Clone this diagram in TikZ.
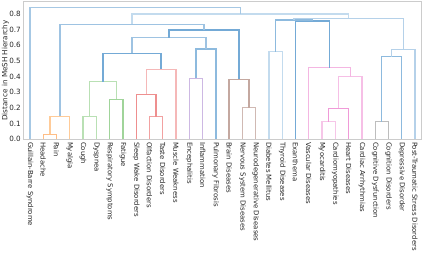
\documentclass[tikz,border=0pt]{standalone}
\usepackage{fontspec}
\setmainfont{DejaVu Sans}
\begin{document}
\begin{tikzpicture}[x=1pt,y=-1pt,
  lnk/.style={line width=1.3pt},
  leaf/.style={rotate=-90,anchor=west,inner sep=0pt,font=\fontsize{6.9}{8}\selectfont,text=black!85},
  tick/.style={anchor=east,inner sep=0pt,font=\fontsize{7.2}{8}\selectfont,text=black!85}]
\definecolor{bA}{HTML}{A6C8E4}
\definecolor{bB}{HTML}{C3DBEE}
\definecolor{bC}{HTML}{9EC3E2}
\definecolor{bD}{HTML}{74AAD6}
\definecolor{bE}{HTML}{8DBADE}
\definecolor{bF}{HTML}{B5D1E9}
\definecolor{oA}{HTML}{FFBE86}
\definecolor{oB}{HTML}{FFCB98}
\definecolor{gA}{HTML}{B9E0B4}
\definecolor{gB}{HTML}{A0D49A}
\definecolor{rA}{HTML}{EE8F8F}
\definecolor{rB}{HTML}{F2A1A1}
\definecolor{rC}{HTML}{F5B8B8}
\definecolor{pu}{HTML}{CDB8E3}
\definecolor{brA}{HTML}{C4A8A0}
\definecolor{brB}{HTML}{D0B9B3}
\definecolor{pA}{HTML}{F4B6E2}
\definecolor{pB}{HTML}{F6BFE6}
\definecolor{pC}{HTML}{F09AD8}
\definecolor{pD}{HTML}{F6C6E8}
\definecolor{gr}{HTML}{BDBDBD}
\useasboundingbox (0,0) rectangle (423,254);
% frame
\draw[black!20,line width=0.8pt] (23.4,1.5) rectangle (421.6,139.3);
% y ticks
\foreach \v in {0,1,...,8} {
  \node[tick] (t\v) at (21,{139.3-15.66*\v}) {0.\v};
}
\node[rotate=90,inner sep=0pt,font=\fontsize{7.2}{8}\selectfont,text=black!85] (ylab) at (5.5,70.4) {Distance in MeSH Hierarchy};
% leaves
\foreach \i/\t in {0/Guillain-Barre Syndrome,1/Headache,2/Pain,3/Myalgia,4/Cough,5/Dyspnea,6/Respiratory Symptoms,7/Fatigue,8/Sleep Wake Disorders,9/Olfaction Disorders,10/Taste Disorders,11/Muscle Weakness,12/Encephalitis,13/Inflammation,14/Pulmonary Fibrosis,15/Brain Diseases,16/Nervous System Diseases,17/Neurodegenerative Diseases,18/Diabetes Mellitus,19/Thyroid Diseases,20/Exanthema,21/Vascular Diseases,22/Myocarditis,23/Cardiomyopathies,24/Heart Diseases,25/Cardiac Arrhythmias,26/Cognitive Dysfunction,27/Cognition Disorders,28/Depressive Disorder,29/Post-Traumatic Stress Disorders} {
  \coordinate (l\i) at ({30+13.276*\i},139.3);
  \node[leaf] (n\i) at ({30+13.276*\i},141.8) {\t};
}
% cluster points
\coordinate (cHP) at (49.92,134.3);
\coordinate (cHPM) at (59.87,116.3);
\coordinate (cCD) at (89.74,116.7);
\coordinate (cRF) at (116.30,99.3);
\coordinate (cG) at (103.02,81.7);
\coordinate (cOT) at (156.12,116.7);
\coordinate (cSOT) at (146.16,94.3);
\coordinate (cR) at (161.10,69.3);
\coordinate (cGR) at (132.06,53.3);
\coordinate (cEI) at (195.95,78.3);
\coordinate (cEIP) at (205.91,49);
\coordinate (cS) at (168.98,37.7);
\coordinate (cNN) at (249.05,107.7);
\coordinate (cB) at (239.10,79.3);
\coordinate (cSB) at (204.04,30);
\coordinate (cO) at (131.96,24.3);
\coordinate (cDT) at (275.60,51.7);
\coordinate (cMC) at (328.71,121.7);
\coordinate (cMCH) at (338.67,108.3);
\coordinate (cMCHA) at (350.28,76.7);
\coordinate (cP) at (329.54,67.7);
\coordinate (cEP) at (312.53,21);
\coordinate (cDTEP) at (294.07,20);
\coordinate (cCC) at (381.81,121.7);
\coordinate (cCCD) at (391.77,56.7);
\coordinate (cPsy) at (403.39,49.3);
\coordinate (cRt) at (348.73,18.5);
\coordinate (cMain) at (240.35,14);
\coordinate (cTop) at (135.17,7.5);
% coloured clusters
\draw[lnk,oA] (l1) |- (cHP) -| (l2);
\draw[lnk,oB] (cHP) |- (cHPM) -| (l3);
\draw[lnk,gA] (l4) |- (cCD) -| (l5);
\draw[lnk,gB] (l6) |- (cRF) -| (l7);
\draw[lnk,gA] (cCD) |- (cG) -| (cRF);
\draw[lnk,rB] (l9) |- (cOT) -| (l10);
\draw[lnk,rA] (l8) |- (cSOT) -| (cOT);
\draw[lnk,rC] (cSOT) |- (cR) -| (l11);
\draw[lnk,pu] (l12) |- (cEI) -| (l13);
\draw[lnk,brB] (l16) |- (cNN) -| (l17);
\draw[lnk,brA] (l15) |- (cB) -| (cNN);
\draw[lnk,pD] (l22) |- (cMC) -| (l23);
\draw[lnk,pC] (cMC) |- (cMCH) -| (l24);
\draw[lnk,pB] (cMCH) |- (cMCHA) -| (l25);
\draw[lnk,pA] (l21) |- (cP) -| (cMCHA);
\draw[lnk,gr] (l26) |- (cCC) -| (l27);
% blue links
\draw[lnk,bD] (cG) |- (cGR) -| (cR);
\draw[lnk,bE] (cEI) |- (cEIP) -| (l14);
\draw[lnk,bC] (cGR) |- (cS) -| (cEIP);
\draw[lnk,bD] (cS) |- (cSB) -| (cB);
\draw[lnk,bC] (cHPM) |- (cO) -| (cSB);
\draw[lnk,bB] (l18) |- (cDT) -| (l19);
\draw[lnk,bD] (l20) |- (cEP) -| (cP);
\draw[lnk,bE] (cDT) |- (cDTEP) -| (cEP);
\draw[lnk,bE] (cCC) |- (cCCD) -| (l28);
\draw[lnk,bF] (cCCD) |- (cPsy) -| (l29);
\draw[lnk,bF] (cDTEP) |- (cRt) -| (cPsy);
\draw[lnk,bB] (cO) |- (cMain) -| (cRt);
\draw[lnk,bA] (l0) |- (cTop) -| (cMain);
\end{tikzpicture}
\end{document}
